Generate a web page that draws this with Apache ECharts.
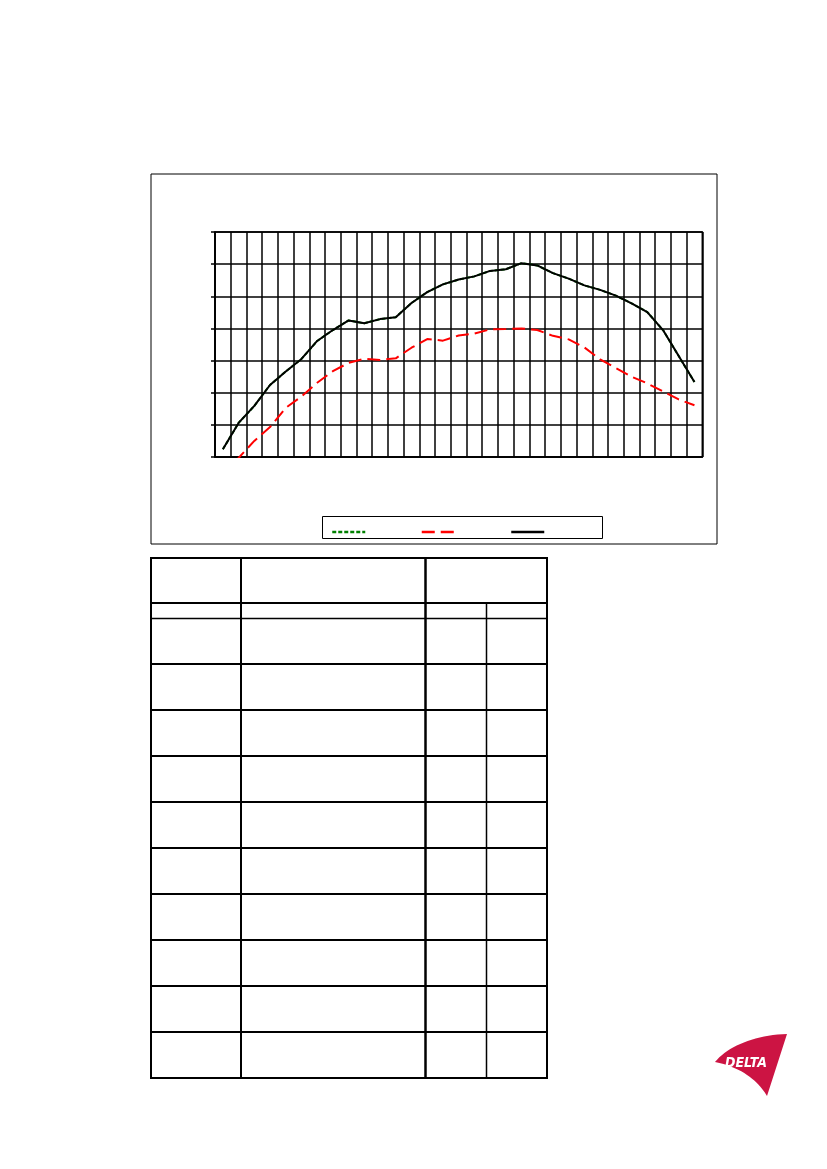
<!DOCTYPE html>
<html>
<head>
<meta charset="utf-8">
<script src="https://cdn.jsdelivr.net/npm/echarts@6/dist/echarts.min.js"></script>
<style>
html,body{margin:0;padding:0;background:#fff;}
#c{position:absolute;left:0;top:0;width:827px;height:1169px;}
</style>
</head>
<body>
<div id="c"></div>
<script>
// 31 one-third-octave bands (no labels shown in the reference)
var categories = ['20','25','31.5','40','50','63','80','100','125','160','200','250','315','400','500','630','800','1k','1.25k','1.6k','2k','2.5k','3.15k','4k','5k','6.3k','8k','10k','12.5k','16k','20k'];
var yTicks = [0, 10, 20, 30, 40, 50, 60, 70];
// green dotted series (lies under the black one)
var greenValues = [2.4, 10.6, 15.9, 22.4, 26.6, 30.5, 36.1, 39.5, 42.5, 41.6, 42.9, 43.5, 47.9, 51.3, 53.7, 55.2, 56.2, 57.9, 58.4, 60.3, 59.6, 57.2, 55.5, 53.4, 52.0, 50.2, 47.8, 45.1, 39.5, 31.4, 23.3];
// red dashed series
var redValues = [-6.0, -0.3, 5.0, 9.3, 15.3, 18.8, 23.1, 26.7, 29.3, 30.6, 30.2, 30.7, 34.0, 36.7, 36.2, 37.8, 38.4, 39.7, 39.8, 40.0, 39.5, 37.7, 36.6, 34.1, 30.4, 27.7, 25.0, 22.9, 20.4, 17.9, 16.1];
// black solid series
var blackValues = [2.4, 10.6, 15.9, 22.4, 26.6, 30.5, 36.1, 39.5, 42.5, 41.6, 42.9, 43.5, 47.9, 51.3, 53.7, 55.2, 56.2, 57.9, 58.4, 60.3, 59.6, 57.2, 55.5, 53.4, 52.0, 50.2, 47.8, 45.1, 39.5, 31.4, 23.3];
var seriesNames = ['Serie 1', 'Serie 2', 'Serie 3'];

var chart = echarts.init(document.getElementById('c'), null, {renderer: 'canvas'});

function bez(p0, p1, p2, p3, n) {
  var pts = [];
  for (var i = 0; i <= n; i++) {
    var t = i / n, u = 1 - t;
    pts.push([
      u*u*u*p0[0] + 3*u*u*t*p1[0] + 3*u*t*t*p2[0] + t*t*t*p3[0],
      u*u*u*p0[1] + 3*u*u*t*p1[1] + 3*u*t*t*p2[1] + t*t*t*p3[1]
    ]);
  }
  return pts;
}
var logoPts = bez([715,1062],[728,1046],[755,1035],[787,1034],20)
  .concat(bez([767,1096],[760,1084],[745,1068],[715,1062],20));

// table geometry
var tL = 151, tR = 547, tT = 558, tB = 1078;
var rowLines = [603, 618.5, 664, 710, 756, 802, 848, 894, 940, 986, 1032];
var graphics = [];
graphics.push({type:'rect', shape:{x:151, y:174, width:566, height:370}, style:{fill:null, stroke:'#000', lineWidth:1}, silent:true, z:0});
graphics.push({type:'rect', shape:{x:322.5, y:516.5, width:280, height:22}, style:{fill:'#fff', stroke:'#000', lineWidth:1}, silent:true, z:1});
graphics.push({type:'rect', shape:{x:tL, y:tT, width:tR-tL, height:tB-tT}, style:{fill:null, stroke:'#000', lineWidth:2}, silent:true});
graphics.push({type:'line', shape:{x1:241, y1:tT, x2:241, y2:tB}, style:{stroke:'#000', lineWidth:2}, silent:true});
graphics.push({type:'line', shape:{x1:425.5, y1:tT, x2:425.5, y2:tB}, style:{stroke:'#000', lineWidth:2.5}, silent:true});
graphics.push({type:'line', shape:{x1:486.5, y1:603, x2:486.5, y2:tB}, style:{stroke:'#000', lineWidth:1.5}, silent:true});
rowLines.forEach(function(y){
  graphics.push({type:'line', shape:{x1:tL, y1:y, x2:tR, y2:y}, style:{stroke:'#000', lineWidth: (y===618.5?1.5:2)}, silent:true});
});
graphics.push({type:'polygon', shape:{points: logoPts}, style:{fill:'#cc1443'}, silent:true});
graphics.push({type:'text', x:725, y:1063, style:{text:'DELTA', fill:'#fff', font:'italic bold 14px "DejaVu Sans Condensed", "Liberation Sans Narrow", sans-serif', verticalAlign:'middle'}, silent:true});

chart.setOption({
  animation: false,
  backgroundColor: '#fff',
  grid: {left: 215, top: 232, width: 487.3, height: 225, show: true, borderColor: '#000', borderWidth: 1.5, backgroundColor: 'transparent'},
  legend: {
    data: seriesNames,
    left: 326, top: 520,
    itemWidth: 33, itemHeight: 14, itemGap: 54,
    formatter: function(){ return ''; },
    selectedMode: false,
    itemStyle: {color: 'transparent', borderColor: 'transparent', borderWidth: 0, opacity: 0},
    lineStyle: {width: 2.5},
    z: 5
  },
  xAxis: {
    type: 'category', data: categories, boundaryGap: true,
    axisLine: {show: true, lineStyle: {color: '#000', width: 1.5}},
    axisTick: {show: false},
    axisLabel: {show: false},
    splitLine: {show: true, interval: 0, lineStyle: {color: '#000', width: 1.5}}
  },
  yAxis: {
    type: 'value', min: yTicks[0], max: yTicks[yTicks.length-1], interval: 10,
    axisLine: {show: true, lineStyle: {color: '#000', width: 1.5}},
    axisTick: {show: true, length: 4, lineStyle: {color: '#000', width: 1.5}},
    axisLabel: {show: false},
    splitLine: {show: true, lineStyle: {color: '#000', width: 1.5}}
  },
  series: [
    {name: seriesNames[0], type: 'line', data: greenValues, symbol: 'none', clip: true, z: 2,
     lineStyle: {color: '#008000', width: 2, type: [4, 2]}, itemStyle: {color: '#008000'}},
    {name: seriesNames[1], type: 'line', data: redValues, symbol: 'none', clip: true, z: 3,
     lineStyle: {color: '#ff0000', width: 2, type: [13, 6]}, itemStyle: {color: '#ff0000'}},
    {name: seriesNames[2], type: 'line', data: blackValues, symbol: 'none', clip: true, z: 4,
     lineStyle: {color: '#000000', width: 2}, itemStyle: {color: '#000000'}}
  ],
  graphic: graphics
});
</script>
</body>
</html>
